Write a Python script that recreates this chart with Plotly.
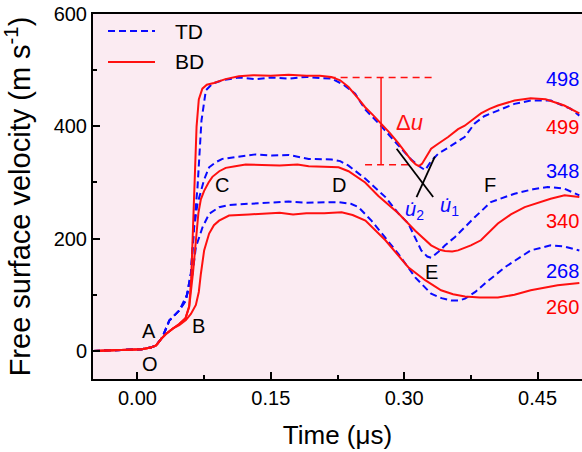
import plotly.graph_objects as go

# ---------------- data ----------------
t_bd_top = [-0.05, -0.03, -0.01, 0.005, 0.015, 0.021, 0.027, 0.032, 0.040, 0.047, 0.054, 0.0582, 0.0605, 0.0625,
            0.0645, 0.0665, 0.0690, 0.0730, 0.0780, 0.0860, 0.0990, 0.114, 0.130, 0.150, 0.170, 0.190, 0.205, 0.218,
            0.228, 0.2374, 0.247, 0.2561, 0.265, 0.2744, 0.284, 0.2934, 0.301, 0.3079, 0.313, 0.3165, 0.3200,
            0.3240, 0.3303, 0.3382, 0.3494, 0.3606, 0.3681, 0.3780, 0.3863, 0.3960, 0.4054, 0.4241, 0.4423,
            0.4591, 0.4801, 0.497]
v_bd_top = [0, 1, 2, 3, 6, 10, 22, 30, 40, 48, 58, 80, 130, 220,
            320, 400, 448, 467, 474, 477, 484, 489, 491, 490, 492, 490, 490, 488,
            482, 470, 452, 434, 420, 405, 388, 370, 354, 340, 332, 329, 333,
            343, 360, 369, 381, 395, 401, 413, 423, 431, 437, 446, 450,
            448, 437, 423]

t_td_top = [-0.05, -0.03, -0.01, 0.005, 0.015, 0.021, 0.0283, 0.0358, 0.047, 0.0545, 0.0601, 0.0638, 0.0675,
            0.0700, 0.0720, 0.0769, 0.0843, 0.0955, 0.114, 0.133, 0.151, 0.170, 0.190, 0.205, 0.2184, 0.232,
            0.2449, 0.2561, 0.2744, 0.2934, 0.3079, 0.3177, 0.3236, 0.3303, 0.3382, 0.3494, 0.3606, 0.368,
            0.3793, 0.3900, 0.4054, 0.4241, 0.4427, 0.4651, 0.4875, 0.497]
v_td_top = [0, 1, 2, 3, 6, 10, 25, 54, 72, 90, 138, 227, 290,
            360, 410, 464, 476, 482, 487, 484, 487, 485, 488, 486, 485, 474,
            458, 430, 400, 366, 341, 328, 322, 338, 351, 362, 374, 381,
            405, 418, 428, 440, 446, 446, 431, 419]

t_bd_mid = [-0.05, -0.03, -0.01, 0.005, 0.015, 0.021, 0.027, 0.032, 0.040, 0.047, 0.054, 0.0582, 0.0625, 0.0655,
            0.0685, 0.0713, 0.0750, 0.0800, 0.0843, 0.0920, 0.0993, 0.1100, 0.1217, 0.140, 0.160, 0.180, 0.1926,
            0.210, 0.2262, 0.2374, 0.2449, 0.2561, 0.2710, 0.2934, 0.3124, 0.3303, 0.3400, 0.3460, 0.3540, 0.3606,
            0.3750, 0.3863, 0.4054, 0.4200, 0.4356, 0.4500, 0.4647, 0.4804, 0.497]
v_bd_mid = [0, 1, 2, 3, 6, 10, 22, 30, 40, 48, 58, 78, 140, 200,
            245, 270, 285, 300, 310, 320, 326, 329, 332, 331, 330, 332, 329,
            328, 327, 320, 312, 300, 276, 245, 214, 188, 180, 178, 177, 179,
            188, 197, 227, 243, 256, 264, 271, 277, 274]

t_td_mid = [-0.05, -0.03, -0.01, 0.005, 0.015, 0.021, 0.0283, 0.0358, 0.047, 0.0545, 0.0601, 0.0638, 0.0675,
            0.0713, 0.0750, 0.0806, 0.0880, 0.0955, 0.110, 0.1329, 0.1512, 0.170, 0.1926, 0.2184, 0.2280, 0.2374,
            0.2561, 0.2789, 0.2934, 0.3046, 0.3192, 0.3260, 0.3303, 0.3382, 0.3460, 0.3572, 0.3793, 0.3975,
            0.4241, 0.4450, 0.4614, 0.4801, 0.497]
v_td_mid = [0, 1, 2, 3, 6, 10, 25, 54, 72, 90, 138, 220, 262,
            285, 305, 327, 336, 342, 345, 350, 348, 349, 342, 341, 338, 330,
            307, 274, 245, 227, 179, 168, 166, 176, 188, 203, 238, 265,
            280, 288, 292, 289, 277]

t_bd_low = [-0.05, -0.03, -0.01, 0.005, 0.015, 0.021, 0.027, 0.032, 0.040, 0.047, 0.0545, 0.0601, 0.0657, 0.0690,
            0.0713, 0.0750, 0.0806, 0.0860, 0.0918, 0.1030, 0.1254, 0.145, 0.160, 0.175, 0.190, 0.210, 0.2296,
            0.2420, 0.2564, 0.2789, 0.3046, 0.3236, 0.3415, 0.3550, 0.3684, 0.3850, 0.4054, 0.4240, 0.4423,
            0.4726, 0.497]
v_bd_low = [0, 1, 2, 3, 6, 10, 22, 30, 40, 46, 55, 66, 82, 105,
            137, 179, 209, 224, 232, 241, 243, 245, 246, 243, 245, 245, 247,
            242, 232, 197, 149, 126, 108, 101, 97, 95, 95, 100, 108,
            117, 121]

t_td_low = [-0.05, -0.03, -0.01, 0.005, 0.015, 0.021, 0.0283, 0.0358, 0.047, 0.0563, 0.0619, 0.0657, 0.0700,
            0.0731, 0.0806, 0.0918, 0.1030, 0.1142, 0.130, 0.150, 0.170, 0.1900, 0.210, 0.2262, 0.2400, 0.2486,
            0.2632, 0.2934, 0.3124, 0.3303, 0.3420, 0.3527, 0.3620, 0.3684, 0.3800, 0.3908, 0.4132, 0.4300,
            0.4423, 0.4647, 0.4800, 0.497]
v_td_low = [0, 1, 2, 3, 6, 10, 25, 54, 72, 102, 137, 185, 205,
            220, 244, 256, 260, 261, 263, 264, 266, 264, 265, 265, 262, 256,
            232, 173, 131, 102, 94, 90, 90, 93, 105, 120, 149, 167,
            179, 188, 186, 179]

# right-side peak labels
peak_labels = ["498", "499", "348", "340", "268", "260"]
peak_label_y = [485, 399, 321, 232, 143, 79]
peak_label_colors = ["blue", "red", "blue", "red", "blue", "red"]

# point letters
letters = ["O", "A", "B", "C", "D", "E", "F"]
letter_t = [0.0142, 0.0127, 0.0686, 0.0948, 0.2262, 0.3307, 0.396]
letter_v = [-24, 35, 44, 295, 295, 140, 295]

x_ticks = [0.0, 0.15, 0.30, 0.45]
y_ticks = [0, 200, 400, 600]

FONT = "Liberation Sans, Arial, sans-serif"
BLUE = "#0a0aff"
RED = "#ff1010"

fig = go.Figure()

curves = [
    (t_td_top, v_td_top, BLUE, "TD"),
    (t_td_mid, v_td_mid, BLUE, "TD"),
    (t_td_low, v_td_low, BLUE, "TD"),
    (t_bd_top, v_bd_top, RED, "BD"),
    (t_bd_mid, v_bd_mid, RED, "BD"),
    (t_bd_low, v_bd_low, RED, "BD"),
]
for t, v, c, name in curves:
    fig.add_trace(go.Scatter(
        x=t, y=v, mode="lines", name=name, showlegend=False,
        line=dict(color=c, width=2, dash="7px,4px" if name == "TD" else "solid",
                  shape="linear"),
    ))

shapes = []
# Delta-u marker
shapes.append(dict(type="line", xref="x", yref="y", x0=0.215, x1=0.3326, y0=487, y1=487,
                   line=dict(color=RED, width=1.5, dash="7px,5px")))
shapes.append(dict(type="line", xref="x", yref="y", x0=0.256, x1=0.31, y0=331.6, y1=331.6,
                   line=dict(color=RED, width=1.5, dash="7px,5px")))
shapes.append(dict(type="line", xref="x", yref="y", x0=0.274, x1=0.274, y0=331.6, y1=487,
                   line=dict(color=RED, width=1.5)))
# tangent lines
shapes.append(dict(type="line", xref="x", yref="y", x0=0.2915, x1=0.3326, y0=360, y1=274,
                   line=dict(color="black", width=1.8)))
shapes.append(dict(type="line", xref="x", yref="y", x0=0.3139, x1=0.3345, y0=274, y1=346,
                   line=dict(color="black", width=1.8)))
# legend samples
shapes.append(dict(type="line", xref="paper", yref="paper", x0=0.0307, x1=0.1268, y0=0.9534, y1=0.9534,
                   line=dict(color=BLUE, width=2, dash="7px,4px")))
shapes.append(dict(type="line", xref="paper", yref="paper", x0=0.0307, x1=0.1268, y0=0.8685, y1=0.8685,
                   line=dict(color=RED, width=2)))

annotations = []
annotations.append(dict(text="TD", xref="paper", yref="paper", x=0.163, y=0.9534, xanchor="left",
                        yanchor="middle", showarrow=False, font=dict(size=21, color="black", family=FONT)))
annotations.append(dict(text="BD", xref="paper", yref="paper", x=0.163, y=0.8685, xanchor="left",
                        yanchor="middle", showarrow=False, font=dict(size=21, color="black", family=FONT)))
for lab, yv, col in zip(peak_labels, peak_label_y, peak_label_colors):
    annotations.append(dict(text=lab, xref="paper", yref="y", x=0.997, y=yv, xanchor="right",
                            yanchor="middle", showarrow=False, font=dict(size=20, color=col, family=FONT)))
for lab, tx, vy in zip(letters, letter_t, letter_v):
    annotations.append(dict(text=lab, xref="x", yref="y", x=tx, y=vy, xanchor="center",
                            yanchor="middle", showarrow=False, font=dict(size=20, color="black", family=FONT)))
annotations.append(dict(text="Δ<i>u</i>", xref="x", yref="y", x=0.3065, y=407, showarrow=False,
                        font=dict(size=22, color=RED, family=FONT)))
annotations.append(dict(text="<i>u\u0307</i><sub>2</sub>", xref="x", yref="y", x=0.312, y=250, showarrow=False,
                        font=dict(size=20, color=BLUE, family=FONT)))
annotations.append(dict(text="<i>u\u0307</i><sub>1</sub>", xref="x", yref="y", x=0.3513, y=257, showarrow=False,
                        font=dict(size=20, color=BLUE, family=FONT)))

fig.update_layout(
    width=582, height=452,
    margin=dict(l=93, r=0, t=14, b=73),
    paper_bgcolor="white",
    plot_bgcolor="#FBEBF2",
    font=dict(family=FONT, color="black", size=20),
    shapes=shapes,
    annotations=annotations,
    showlegend=False,
)
fig.update_xaxes(
    range=[-0.05, 0.5], tickvals=x_ticks, ticktext=[f"{v:.2f}" for v in x_ticks],
    ticks="inside", ticklen=7, tickwidth=1.5, tickcolor="black",
    minor=dict(tickvals=[-0.075 + 0.15 * i for i in range(5)], ticks="inside", ticklen=4, tickwidth=1.5,
               tickcolor="black"),
    showline=True, linecolor="black", linewidth=2, mirror=True,
    showgrid=False, zeroline=False,
    tickfont=dict(size=20, family=FONT),
    title=dict(text="Time (μs)", font=dict(size=26, family=FONT), standoff=18),
    automargin=False,
)
fig.update_yaxes(
    range=[-50, 600], tickvals=y_ticks,
    ticks="inside", ticklen=7, tickwidth=1.5, tickcolor="black",
    minor=dict(tickvals=[100, 300, 500], ticks="inside", ticklen=4, tickwidth=1.5, tickcolor="black"),
    showline=True, linecolor="black", linewidth=2, mirror=False,
    showgrid=False, zeroline=False,
    tickfont=dict(size=20, family=FONT),
    title=dict(text="Free surface velocity (m s<sup>-1</sup>)", font=dict(size=29, family=FONT), standoff=15),
    automargin=False,
)

fig.write_html("out.html")
